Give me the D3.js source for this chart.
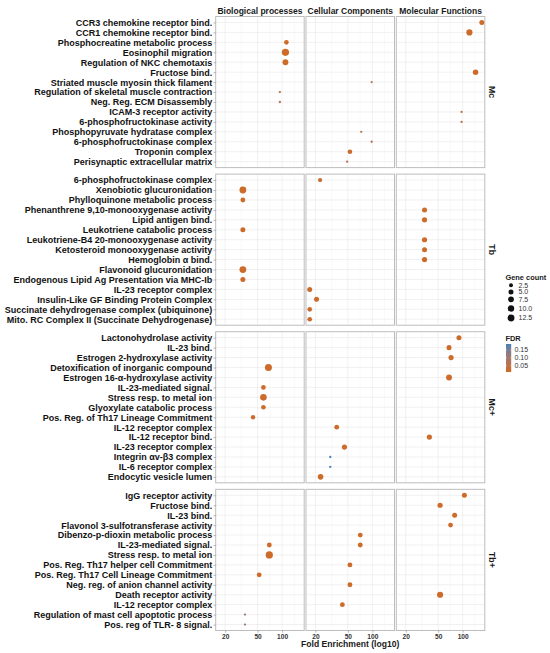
<!DOCTYPE html>
<html><head><meta charset="utf-8">
<script src="https://cdn.jsdelivr.net/npm/d3@7"></script>
<style>body{margin:0;background:#fff}svg{display:block;font-family:"Liberation Sans",Arial,sans-serif}</style>
</head><body>
<svg id="chart" width="550" height="653"></svg>
<script>
// ---------- data ----------
const groups = ["Mc", "Tb", "Mc+", "Tb+"];
const ontologies = ["Biological processes", "Cellular Components", "Molecular Functions"];
const ontKeys = ["BP", "CC", "MF"];
const xTicks = [20, 50, 100];
const sizeBreaks = [2.5, 5.0, 7.5, 10.0, 12.5];
const fdrBreaks = [0.05, 0.10, 0.15];

const termsMc = ["CCR3 chemokine receptor bind.", "CCR1 chemokine receptor bind.", "Phosphocreatine metabolic process", "Eosinophil migration", "Regulation of NKC chemotaxis", "Fructose bind.", "Striated muscle myosin thick filament", "Regulation of skeletal muscle contraction", "Neg. Reg. ECM Disassembly", "ICAM-3 receptor activity", "6-phosphofructokinase activity", "Phosphopyruvate hydratase complex", "6-phosphofructokinase complex", "Troponin complex", "Perisynaptic extracellular matrix"];
const termsTb = ["6-phosphofructokinase complex", "Xenobiotic glucuronidation", "Phylloquinone metabolic process", "Phenanthrene 9,10-monooxygenase activity", "Lipid antigen bind.", "Leukotriene catabolic process", "Leukotriene-B4 20-monooxygenase activity", "Ketosteroid monooxygenase activity", "Hemoglobin α bind.", "Flavonoid glucuronidation", "Endogenous Lipid Ag Presentation via MHC-Ib", "IL-23 receptor complex", "Insulin-Like GF Binding Protein Complex", "Succinate dehydrogenase complex (ubiquinone)", "Mito. RC Complex II (Succinate Dehydrogenase)"];
const termsMcPlus = ["Lactonohydrolase activity", "IL-23 bind.", "Estrogen 2-hydroxylase activity", "Detoxification of inorganic compound", "Estrogen 16-α-hydroxylase activity", "IL-23-mediated signal.", "Stress resp. to metal ion", "Glyoxylate catabolic process", "Pos. Reg. of Th17 Lineage Commitment", "IL-12 receptor complex", "IL-12 receptor bind.", "IL-23 receptor complex", "Integrin αv-β3 complex", "IL-6 receptor complex", "Endocytic vesicle lumen"];
const termsTbPlus = ["IgG receptor activity", "Fructose bind.", "IL-23 bind.", "Flavonol 3-sulfotransferase activity", "Dibenzo-p-dioxin metabolic process", "IL-23-mediated signal.", "Stress resp. to metal ion", "Pos. Reg. Th17 helper cell Commitment", "Pos. Reg. Th17 Cell Lineage Commitment", "Neg. reg. of anion channel activity", "Death receptor activity", "IL-12 receptor complex", "Regulation of mast cell apoptotic process", "Pos. reg of TLR- 8 signal."];

// [term, ontology, fold enrichment, gene count, FDR]
const hitsMc = [
  ["CCR3 chemokine receptor bind.", "MF", 172, 5, 0.02],
  ["CCR1 chemokine receptor bind.", "MF", 121, 9, 0.02],
  ["Phosphocreatine metabolic process", "BP", 113, 4, 0.02],
  ["Eosinophil migration", "BP", 110, 14, 0.02],
  ["Regulation of NKC chemotaxis", "BP", 110, 8, 0.02],
  ["Fructose bind.", "MF", 144, 6.5, 0.02],
  ["Striated muscle myosin thick filament", "CC", 98, 1, 0.06],
  ["Regulation of skeletal muscle contraction", "BP", 94, 1, 0.06],
  ["Neg. Reg. ECM Disassembly", "BP", 94, 1, 0.06],
  ["ICAM-3 receptor activity", "MF", 97, 1, 0.06],
  ["6-phosphofructokinase activity", "MF", 97, 1, 0.06],
  ["Phosphopyruvate hydratase complex", "CC", 73, 1, 0.06],
  ["6-phosphofructokinase complex", "CC", 98, 1, 0.06],
  ["Troponin complex", "CC", 53, 4, 0.025],
  ["Perisynaptic extracellular matrix", "CC", 49, 1, 0.06]
];
const hitsTb = [
  ["6-phosphofructokinase complex", "CC", 22.8, 3, 0.03],
  ["Xenobiotic glucuronidation", "BP", 33, 12, 0.02],
  ["Phylloquinone metabolic process", "BP", 33, 4.5, 0.02],
  ["Phenanthrene 9,10-monooxygenase activity", "MF", 34, 5, 0.02],
  ["Lipid antigen bind.", "MF", 34, 5.5, 0.02],
  ["Leukotriene catabolic process", "BP", 33, 5, 0.02],
  ["Leukotriene-B4 20-monooxygenase activity", "MF", 34, 5.5, 0.02],
  ["Ketosteroid monooxygenase activity", "MF", 34, 5, 0.02],
  ["Hemoglobin α bind.", "MF", 34, 5.5, 0.02],
  ["Flavonoid glucuronidation", "BP", 33, 12, 0.02],
  ["Endogenous Lipid Ag Presentation via MHC-Ib", "BP", 33, 5, 0.02],
  ["IL-23 receptor complex", "CC", 17, 5, 0.025],
  ["Insulin-Like GF Binding Protein Complex", "CC", 20.6, 5, 0.025],
  ["Succinate dehydrogenase complex (ubiquinone)", "CC", 17, 4, 0.025],
  ["Mito. RC Complex II (Succinate Dehydrogenase)", "CC", 17, 4, 0.025]
];
const hitsMcPlus = [
  ["Lactonohydrolase activity", "MF", 90, 5, 0.02],
  ["IL-23 bind.", "MF", 68, 5, 0.02],
  ["Estrogen 2-hydroxylase activity", "MF", 72, 5.5, 0.02],
  ["Detoxification of inorganic compound", "BP", 68, 13, 0.02],
  ["Estrogen 16-α-hydroxylase activity", "MF", 68, 8, 0.02],
  ["IL-23-mediated signal.", "BP", 59, 4, 0.02],
  ["Stress resp. to metal ion", "BP", 59, 11, 0.02],
  ["Glyoxylate catabolic process", "BP", 59, 4, 0.02],
  ["Pos. Reg. of Th17 Lineage Commitment", "BP", 44, 3.5, 0.025],
  ["IL-12 receptor complex", "CC", 36.5, 4.5, 0.02],
  ["IL-12 receptor bind.", "MF", 39, 5.5, 0.02],
  ["IL-23 receptor complex", "CC", 45.4, 5.5, 0.02],
  ["Integrin αv-β3 complex", "CC", 30.4, 1, 0.185],
  ["IL-6 receptor complex", "CC", 30.4, 1, 0.185],
  ["Endocytic vesicle lumen", "CC", 23.1, 7, 0.02]
];
const hitsTbPlus = [
  ["IgG receptor activity", "MF", 105, 5, 0.02],
  ["Fructose bind.", "MF", 52.8, 5.5, 0.02],
  ["IL-23 bind.", "MF", 79.7, 5, 0.02],
  ["Flavonol 3-sulfotransferase activity", "MF", 71, 4.5, 0.02],
  ["Dibenzo-p-dioxin metabolic process", "CC", 71, 4.5, 0.02],
  ["IL-23-mediated signal.", "BP", 69.7, 4.5, 0.02],
  ["IL-23-mediated signal.", "CC", 71, 4.5, 0.02],
  ["Stress resp. to metal ion", "BP", 69.7, 14, 0.02],
  ["Pos. Reg. Th17 helper cell Commitment", "CC", 53, 4.5, 0.02],
  ["Pos. Reg. Th17 Cell Lineage Commitment", "BP", 52.3, 4.5, 0.02],
  ["Neg. reg. of anion channel activity", "CC", 53, 4.5, 0.02],
  ["Death receptor activity", "MF", 52.8, 9, 0.02],
  ["IL-12 receptor complex", "CC", 42.8, 4.5, 0.02],
  ["Regulation of mast cell apoptotic process", "BP", 35, 1, 0.11],
  ["Pos. reg of TLR- 8 signal.", "BP", 35, 1, 0.11]
];

const groupTerms = [termsMc, termsTb, termsMcPlus, termsTbPlus];
const groupHits = [hitsMc, hitsTb, hitsMcPlus, hitsTbPlus];

// ---------- layout ----------
const svg = d3.select("#chart");
const colX0 = 215.7, colW = 88.5, colGap = 1.8;
const top0 = 16.5, bottom0 = 630.5, rowGap = 6.5;
const units = groupTerms.map(t => t.length - 1 + 1.2);
const unitPx = (bottom0 - top0 - rowGap * (groups.length - 1)) / d3.sum(units);

const x = d3.scaleLog().domain([15.3, 187]).range([0, colW]);
const minorTicks = [Math.sqrt(20 * 50), Math.sqrt(50 * 100), 100 * Math.sqrt(100 / 50)];
const size = d3.scaleLinear().domain([0, 1]).range([1.15, 3.6]);
const cMin = 1, cMax = 14;
const radius = c => size(Math.sqrt(Math.max(0, (c - cMin) / (cMax - cMin))));
const color = d3.scaleLinear().domain([0.01, 0.188]).range(["#D2691E", "#4682B4"]).interpolate(d3.interpolateLab);

const font = '"Liberation Sans", Arial, sans-serif';
let yTop = top0;
groups.forEach((g, gi) => {
  const h = units[gi] * unitPx;
  const y = d3.scalePoint().domain(groupTerms[gi]).range([yTop, yTop + h]).padding(0.6);
  ontologies.forEach((o, oi) => {
    const px = colX0 + oi * (colW + colGap);
    const p = svg.append("g").attr("transform", `translate(${px},0)`);
    // grid
    p.selectAll(".hmaj").data(groupTerms[gi]).join("line")
      .attr("x1", 0).attr("x2", colW).attr("y1", d => y(d)).attr("y2", d => y(d))
      .attr("stroke", "#e3e3e3").attr("stroke-width", 0.5);
    p.selectAll(".vmin").data(minorTicks).join("line")
      .attr("x1", d => x(d)).attr("x2", d => x(d)).attr("y1", yTop).attr("y2", yTop + h)
      .attr("stroke", "#efefef").attr("stroke-width", 0.35);
    p.selectAll(".vmaj").data(xTicks).join("line")
      .attr("x1", d => x(d)).attr("x2", d => x(d)).attr("y1", yTop).attr("y2", yTop + h)
      .attr("stroke", "#e3e3e3").attr("stroke-width", 0.5);
    // points
    const pts = groupHits[gi].filter(d => d[1] === ontKeys[oi]).sort((a, b) => b[3] - a[3]);
    p.selectAll("circle").data(pts).join("circle")
      .attr("cx", d => x(d[2])).attr("cy", d => y(d[0]))
      .attr("r", d => radius(d[3])).attr("fill", d => color(d[4]));
    // border
    p.append("rect").attr("x", 0).attr("y", yTop).attr("width", colW).attr("height", h)
      .attr("fill", "none").attr("stroke", "#bdbdbd").attr("stroke-width", 1);
    // y axis on first column
    if (oi === 0) {
      const ax = p.append("g").call(d3.axisLeft(y).tickSize(2.2).tickPadding(1.2));
      ax.select(".domain").remove();
      ax.selectAll(".tick line").attr("stroke", "#8a8a8a").attr("stroke-width", 0.6);
      ax.selectAll(".tick text").attr("font-family", font).attr("font-size", 9)
        .attr("font-weight", "bold").attr("fill", "#111");
    }
    // x axis on last row
    if (gi === groups.length - 1) {
      const ax = p.append("g").attr("transform", `translate(0,${yTop + h})`)
        .call(d3.axisBottom(x).tickValues(xTicks).tickFormat(d3.format("d")).tickSize(2.2).tickPadding(1.5));
      ax.select(".domain").remove();
      ax.selectAll(".tick line").attr("stroke", "#8a8a8a").attr("stroke-width", 0.6);
      ax.selectAll(".tick text").attr("font-family", font).attr("font-size", 6.6)
        .attr("font-weight", "bold").attr("fill", "#333");
    }
    // top strip
    if (gi === 0) {
      svg.append("text").attr("x", px + colW / 2).attr("y", 13.5).attr("text-anchor", "middle")
        .attr("font-family", font).attr("font-size", 8.5).attr("font-weight", "bold").attr("fill", "#1a1a1a")
        .text(o);
    }
  });
  // right strip
  const sx = colX0 + 3 * colW + 2 * colGap + 4;
  svg.append("text").attr("transform", `translate(${sx},${yTop + h / 2}) rotate(90)`)
    .attr("text-anchor", "middle").attr("font-family", font).attr("font-size", 8.8)
    .attr("font-weight", "bold").attr("fill", "#1a1a1a").text(g);
  yTop += h + rowGap;
});

// x title
svg.append("text").attr("x", colX0 + (3 * colW + 2 * colGap) / 2).attr("y", 646.5)
  .attr("text-anchor", "middle").attr("font-family", font).attr("font-size", 8.6)
  .attr("font-weight", "bold").attr("fill", "#1a1a1a").text("Fold Enrichment (log10)");

// ---------- legends ----------
const lg = svg.append("g");
lg.append("text").attr("x", 505.5).attr("y", 280).attr("font-family", font).attr("font-size", 7.4)
  .attr("font-weight", "bold").attr("fill", "#1a1a1a").text("Gene count");
const keyY = [285.3, 292, 299.3, 308.5, 318];
lg.selectAll(".sk").data(sizeBreaks).join("circle")
  .attr("cx", 511).attr("cy", (d, i) => keyY[i]).attr("r", d => radius(d)).attr("fill", "#111");
lg.selectAll(".sl").data(sizeBreaks).join("text")
  .attr("x", 518.5).attr("y", (d, i) => keyY[i] + 2.4).attr("font-family", font).attr("font-size", 7)
  .attr("fill", "#333").text(d => d3.format(".1f")(d));

lg.append("text").attr("x", 505.5).attr("y", 341).attr("font-family", font).attr("font-size", 7.4)
  .attr("font-weight", "bold").attr("fill", "#1a1a1a").text("FDR");
const fy = d3.scaleLinear().domain(color.domain()).range([372, 344]);
const defs = svg.append("defs");
const grad = defs.append("linearGradient").attr("id", "fdrg").attr("x1", 0).attr("x2", 0).attr("y1", 1).attr("y2", 0);
d3.range(0, 1.0001, 0.1).forEach(t => {
  grad.append("stop").attr("offset", t).attr("stop-color", color(color.domain()[0] + t * (color.domain()[1] - color.domain()[0])));
});
lg.append("rect").attr("x", 506).attr("y", 344).attr("width", 5.2).attr("height", 28).attr("fill", "url(#fdrg)");
lg.selectAll(".ft").data(fdrBreaks).join("line")
  .attr("x1", 506).attr("x2", 507).attr("y1", d => fy(d)).attr("y2", d => fy(d)).attr("stroke", "#fff").attr("stroke-width", 0.4);
lg.selectAll(".ft2").data(fdrBreaks).join("line")
  .attr("x1", 510.2).attr("x2", 511.2).attr("y1", d => fy(d)).attr("y2", d => fy(d)).attr("stroke", "#fff").attr("stroke-width", 0.4);
lg.selectAll(".fl").data(fdrBreaks).join("text")
  .attr("x", 514.5).attr("y", d => fy(d) + 2.4).attr("font-family", font).attr("font-size", 7)
  .attr("fill", "#333").text(d => d3.format(".2f")(d));
</script>
</body></html>
